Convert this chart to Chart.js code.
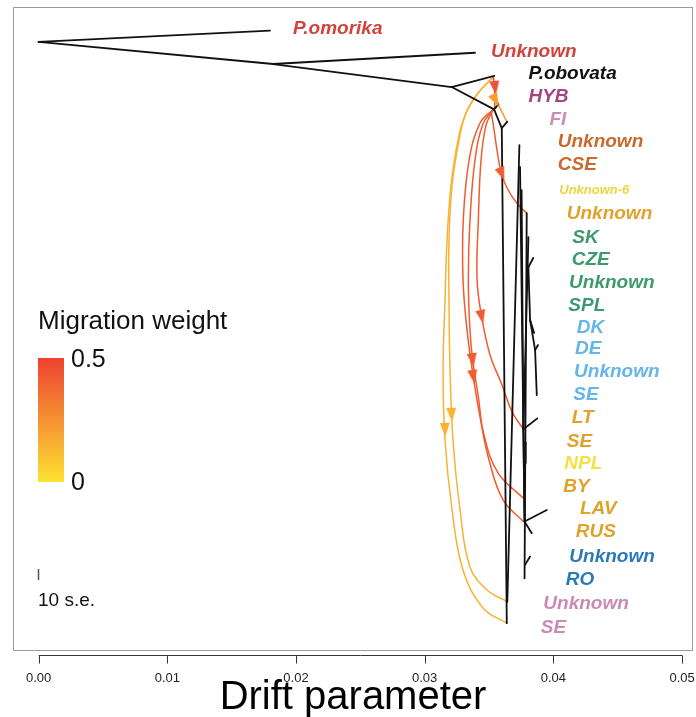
<!DOCTYPE html>
<html><head><meta charset="utf-8">
<script src="https://cdn.jsdelivr.net/npm/chart.js@4.4.1/dist/chart.umd.min.js"></script>
<style>html,body{margin:0;padding:0;background:#fff;}#wrap{width:696px;height:717px;}</style>
</head><body><div id="wrap"><canvas id="c" width="696" height="717"></canvas></div>
<script>
// ---------- tree nodes (drift parameter, vertical row position) ----------
const nodeNames = ['root','omorika','A','unk1','B','obovata','C','hyb','D','fi','seBot','unkBot',
  'tUnk2','tCSE','tU6','tUnk3','tSK','N1','tCZE','N2','tDK','N3','tDE','tSE1','ltNode','tLT',
  'n441','tNPL','lavNode','tLAV','tRUS','n565','tUnk4','tRO'];
const nodeDrift = [0.0,0.01798,0.01822,0.03391,0.03210,0.03541,0.03539,0.03574,0.03599,0.03642,0.03638,0.03642,
  0.03736,0.03741,0.03753,0.03793,0.03806,0.03806,0.03844,0.03819,0.03850,0.03858,0.03881,0.03871,0.03767,0.03875,
  0.03780,0.03785,0.03776,0.03949,0.03832,0.03780,0.03819,0.03776];
const nodeRow = [1.56,1.07,2.52,2.03,3.52,3.03,4.49,4.26,5.30,5.02,26.79,25.86,
  6.04,6.99,7.99,8.99,10.03,11.33,10.94,13.63,14.19,14.93,14.72,16.89,18.37,17.90,
  18.91,19.84,22.38,21.88,22.89,24.26,23.90,24.84];
const treeEdges = [['root','omorika'],['root','A'],['A','unk1'],['A','B'],['B','obovata'],['B','C'],
  ['C','hyb'],['C','D'],['D','fi'],['D','seBot'],['tUnk2','unkBot'],['tCSE','lavNode'],['tU6','ltNode'],
  ['tUnk3','tRO'],['tSK','ltNode'],['N1','tCZE'],['N1','N2'],['N2','tDK'],['N2','N3'],['N3','tDE'],
  ['N3','tSE1'],['ltNode','tLT'],['ltNode','lavNode'],['n441','tNPL'],['lavNode','tLAV'],['lavNode','tRUS'],
  ['n565','tUnk4']];

// ---------- leaf labels ----------
const leafLabels = ['P.omorika','Unknown','P.obovata','HYB','FI','Unknown','CSE','Unknown-6','Unknown',
  'SK','CZE','Unknown','SPL','DK','DE','Unknown','SE','LT','SE','NPL','BY','LAV','RUS','Unknown','RO','Unknown','SE'];
const leafLabelDrift = [0.01977,0.03516,0.03806,0.03806,0.03969,0.04034,0.04034,0.04046,0.04104,
  0.04147,0.04143,0.04122,0.04116,0.04182,0.04168,0.04161,0.04155,0.04143,0.04104,0.04085,0.04077,0.04207,0.04174,
  0.04124,0.04096,0.03922,0.03902];
const leafLabelRow = [1.00,2.00,2.95,3.95,4.95,5.90,6.90,7.99,9.03,10.07,11.03,12.02,13.02,13.98,14.89,15.89,
  16.89,17.88,18.93,19.86,20.88,21.81,22.83,23.92,24.92,25.93,27.01];

// ---------- migration edges (weight, path points [drift,row], arrowhead) ----------
const migWeights = [0.45,0.22,0.42,0.42,0.42,0.42,0.15,0.15];
const migObovataToC = [[0.03533,3.06],[0.03547,3.73],[0.03543,4.43]];
const migObovataToFI = [[0.03533,3.08],[0.03543,3.65],[0.03554,4.08],[0.03593,4.52],[0.03638,5.02]];
const migCToUnk3 = [[0.03516,4.56],[0.03539,5.38],[0.03562,6.25],[0.03593,7.21],[0.03640,7.90],[0.03715,8.55],[0.03793,9.00]];
const migCToLT = [[0.03533,4.49],[0.03477,5.17],[0.03438,6.69],[0.03417,9.29],[0.03407,11.89],[0.03443,13.50],
  [0.03508,15.15],[0.03601,16.45],[0.03679,17.62],[0.03767,18.37]];
const migCToBY = [[0.03533,4.49],[0.03453,5.12],[0.03391,6.69],[0.03352,9.29],[0.03339,11.89],[0.03352,14.06],
  [0.03373,15.37],[0.03415,16.89],[0.03461,18.62],[0.03570,20.27],[0.03767,21.37]];
const migCToLAV = [[0.03533,4.49],[0.03430,5.08],[0.03345,6.69],[0.03300,9.29],[0.03298,11.89],[0.03329,14.06],
  [0.03378,16.10],[0.03430,17.84],[0.03500,19.71],[0.03609,21.44],[0.03767,22.38]];
const migObovataToSE = [[0.03533,3.08],[0.03415,3.78],[0.03321,4.65],[0.03259,5.82],[0.03205,7.77],[0.03174,10.16],
  [0.03158,12.76],[0.03143,15.80],[0.03158,18.84],[0.03213,21.88],[0.03298,24.48],[0.03453,26.13],[0.03638,26.79]];
const migObovataToUnk = [[0.03533,3.08],[0.03415,3.78],[0.03321,4.65],[0.03267,5.82],[0.03213,7.77],[0.03189,10.16],
  [0.03189,12.76],[0.03197,15.80],[0.03220,18.84],[0.03275,21.88],[0.03352,24.35],[0.03485,25.35],[0.03642,25.86]];
const migArrowDrift = [0.03547,0.03552,0.03600,0.03443,0.03373,0.03378,0.03158,0.03209];
const migArrowRow = [3.56,4.11,7.30,13.50,15.37,16.10,18.40,17.75];

const migPaths = [migObovataToC,migObovataToFI,migCToUnk3,migCToLT,migCToBY,migCToLAV,migObovataToSE,migObovataToUnk];
const xTickValues = [0,0.01,0.02,0.03,0.04,0.05];

// ---------- styles ----------
const leafColors = ['#D2443B','#D2443B','#111111','#A4457F','#CF8BB5','#C9692B','#C9692B','#F2D33A','#E1A22B',
  '#3C9A6E','#3C9A6E','#3C9A6E','#3C9A6E','#64B5E8','#64B5E8','#64B5E8','#64B5E8','#E1A22B','#E1A22B','#F4DF45',
  '#E1A22B','#E1A22B','#E1A22B','#2B7AB8','#2B7AB8','#C98BB3','#C98BB3'];
const FAM = "'Liberation Sans', Arial, Helvetica, sans-serif";
const LOW = [253,226,50], HIGH = [238,66,50];
function weightColor(w){
  const t = Math.max(0, Math.min(1, w/0.5));
  const c = LOW.map((v,i)=>Math.round(v + (HIGH[i]-v)*t));
  return 'rgb('+c.join(',')+')';
}
const arrowCache = {};
function arrowImg(col){
  if (arrowCache[col]) return arrowCache[col];
  const cv = document.createElement('canvas'); cv.width = 10; cv.height = 14;
  const g = cv.getContext('2d'); g.fillStyle = col;
  g.beginPath(); g.moveTo(5,0); g.lineTo(10,14); g.lineTo(0,14); g.closePath(); g.fill();
  arrowCache[col] = cv; return cv;
}

const datasets = [];
treeEdges.forEach(([a,b])=>{
  const ia = nodeNames.indexOf(a), ib = nodeNames.indexOf(b);
  datasets.push({type:'line', data:[{x:nodeDrift[ia],y:nodeRow[ia]},{x:nodeDrift[ib],y:nodeRow[ib]}],
    borderColor:'#111', borderWidth:1.8, pointRadius:0, tension:0, order:1, borderCapStyle:'round'});
});
migPaths.forEach((p,i)=>{
  datasets.push({type:'line', data:p.map(q=>({x:q[0],y:q[1]})), borderColor:weightColor(migWeights[i]),
    borderWidth:1.5, pointRadius:0, tension:0.4, order:2});
});
const arrowData = migArrowDrift.map((d,i)=>({x:d,y:migArrowRow[i]}));
datasets.push({type:'scatter', data:arrowData, order:0,
  pointStyle: ctx => arrowImg(weightColor(migWeights[ctx.dataIndex])),
  rotation: ctx => {
    const ch = ctx.chart, xs = ch.scales.x, ys = ch.scales.y;
    if (!xs || !ys) return 180;
    const path = migPaths[ctx.dataIndex], r = migArrowRow[ctx.dataIndex];
    let j = path.findIndex(q=>q[1] > r); if (j < 1) j = path.length-1;
    const a = path[j-1], b = path[j];
    const dx = xs.getPixelForValue(b[0]) - xs.getPixelForValue(a[0]);
    const dy = ys.getPixelForValue(b[1]) - ys.getPixelForValue(a[1]);
    return Math.atan2(dx, -dy)*180/Math.PI;
  },
  pointRadius:6});

const decor = {
  id:'decor',
  afterDraw(chart){
    const {ctx, chartArea:ca, scales:{x, y}} = chart;
    ctx.save();
    ctx.strokeStyle = '#9a9a9a'; ctx.lineWidth = 1;
    ctx.strokeRect(ca.left+0.5, ca.top+0.5, ca.right-ca.left-1, ca.bottom-ca.top);
    ctx.strokeStyle = '#333'; ctx.lineWidth = 1;
    const ay = ca.bottom + 5.5;
    ctx.beginPath();
    ctx.moveTo(x.getPixelForValue(xTickValues[0]), ay);
    ctx.lineTo(x.getPixelForValue(xTickValues[xTickValues.length-1]), ay);
    xTickValues.forEach(v=>{ const px = Math.round(x.getPixelForValue(v))+0.5; ctx.moveTo(px, ay); ctx.lineTo(px, ay+8); });
    ctx.stroke();
    ctx.textAlign = 'left'; ctx.textBaseline = 'middle';
    leafLabels.forEach((t,i)=>{
      const size = t === 'Unknown-6' ? 13 : 19;
      ctx.font = 'italic bold ' + size + 'px ' + FAM;
      ctx.fillStyle = leafColors[i];
      ctx.fillText(t, x.getPixelForValue(leafLabelDrift[i]), y.getPixelForValue(leafLabelRow[i]));
    });
    ctx.fillStyle = '#111';
    ctx.font = '26px ' + FAM; ctx.textBaseline = 'alphabetic';
    ctx.fillText('Migration weight', 38, 329);
    const g = ctx.createLinearGradient(0, 358, 0, 482);
    g.addColorStop(0, weightColor(0.5)); g.addColorStop(1, weightColor(0));
    ctx.fillStyle = g; ctx.fillRect(38, 358, 26, 124);
    ctx.fillStyle = '#111'; ctx.textBaseline = 'middle';
    ctx.font = '25px ' + FAM;
    ctx.fillText('0.5', 71, 360);
    ctx.fillText('0', 71, 483);
    ctx.strokeStyle = '#555'; ctx.lineWidth = 1.5;
    ctx.beginPath(); ctx.moveTo(38.5, 569); ctx.lineTo(38.5, 580); ctx.stroke();
    ctx.font = '19px ' + FAM; ctx.fillStyle = '#111';
    ctx.fillText('10 s.e.', 38, 601);
    ctx.restore();
  }
};

new Chart(document.getElementById('c'), {
  data:{datasets},
  options:{
    responsive:false, animation:false, devicePixelRatio:1,
    layout:{autoPadding:false, padding:{left:13, right:3, top:7, bottom:0}},
    plugins:{legend:{display:false}, tooltip:{enabled:false}},
    scales:{
      x:{type:'linear', min:-0.00199, max:0.05085,
        grid:{display:false, drawTicks:true, tickLength:21}, border:{display:false},
        ticks:{stepSize:0.01, includeBounds:false, padding:0, color:'#222', autoSkip:false, maxRotation:0,
          font:{family:FAM, size:13}, callback:v=>Math.abs(v)<1e-9 ? '0.00' : Number(v).toFixed(2)},
        title:{display:true, text:'Drift parameter', color:'#000', font:{family:FAM, size:40}, padding:{top:0,bottom:-5}},
        afterFit: s => { s.height = 67; }
      },
      y:{type:'linear', display:false, min:0.045, max:27.955, reverse:true}
    }
  },
  plugins:[decor]
});
</script></body></html>
